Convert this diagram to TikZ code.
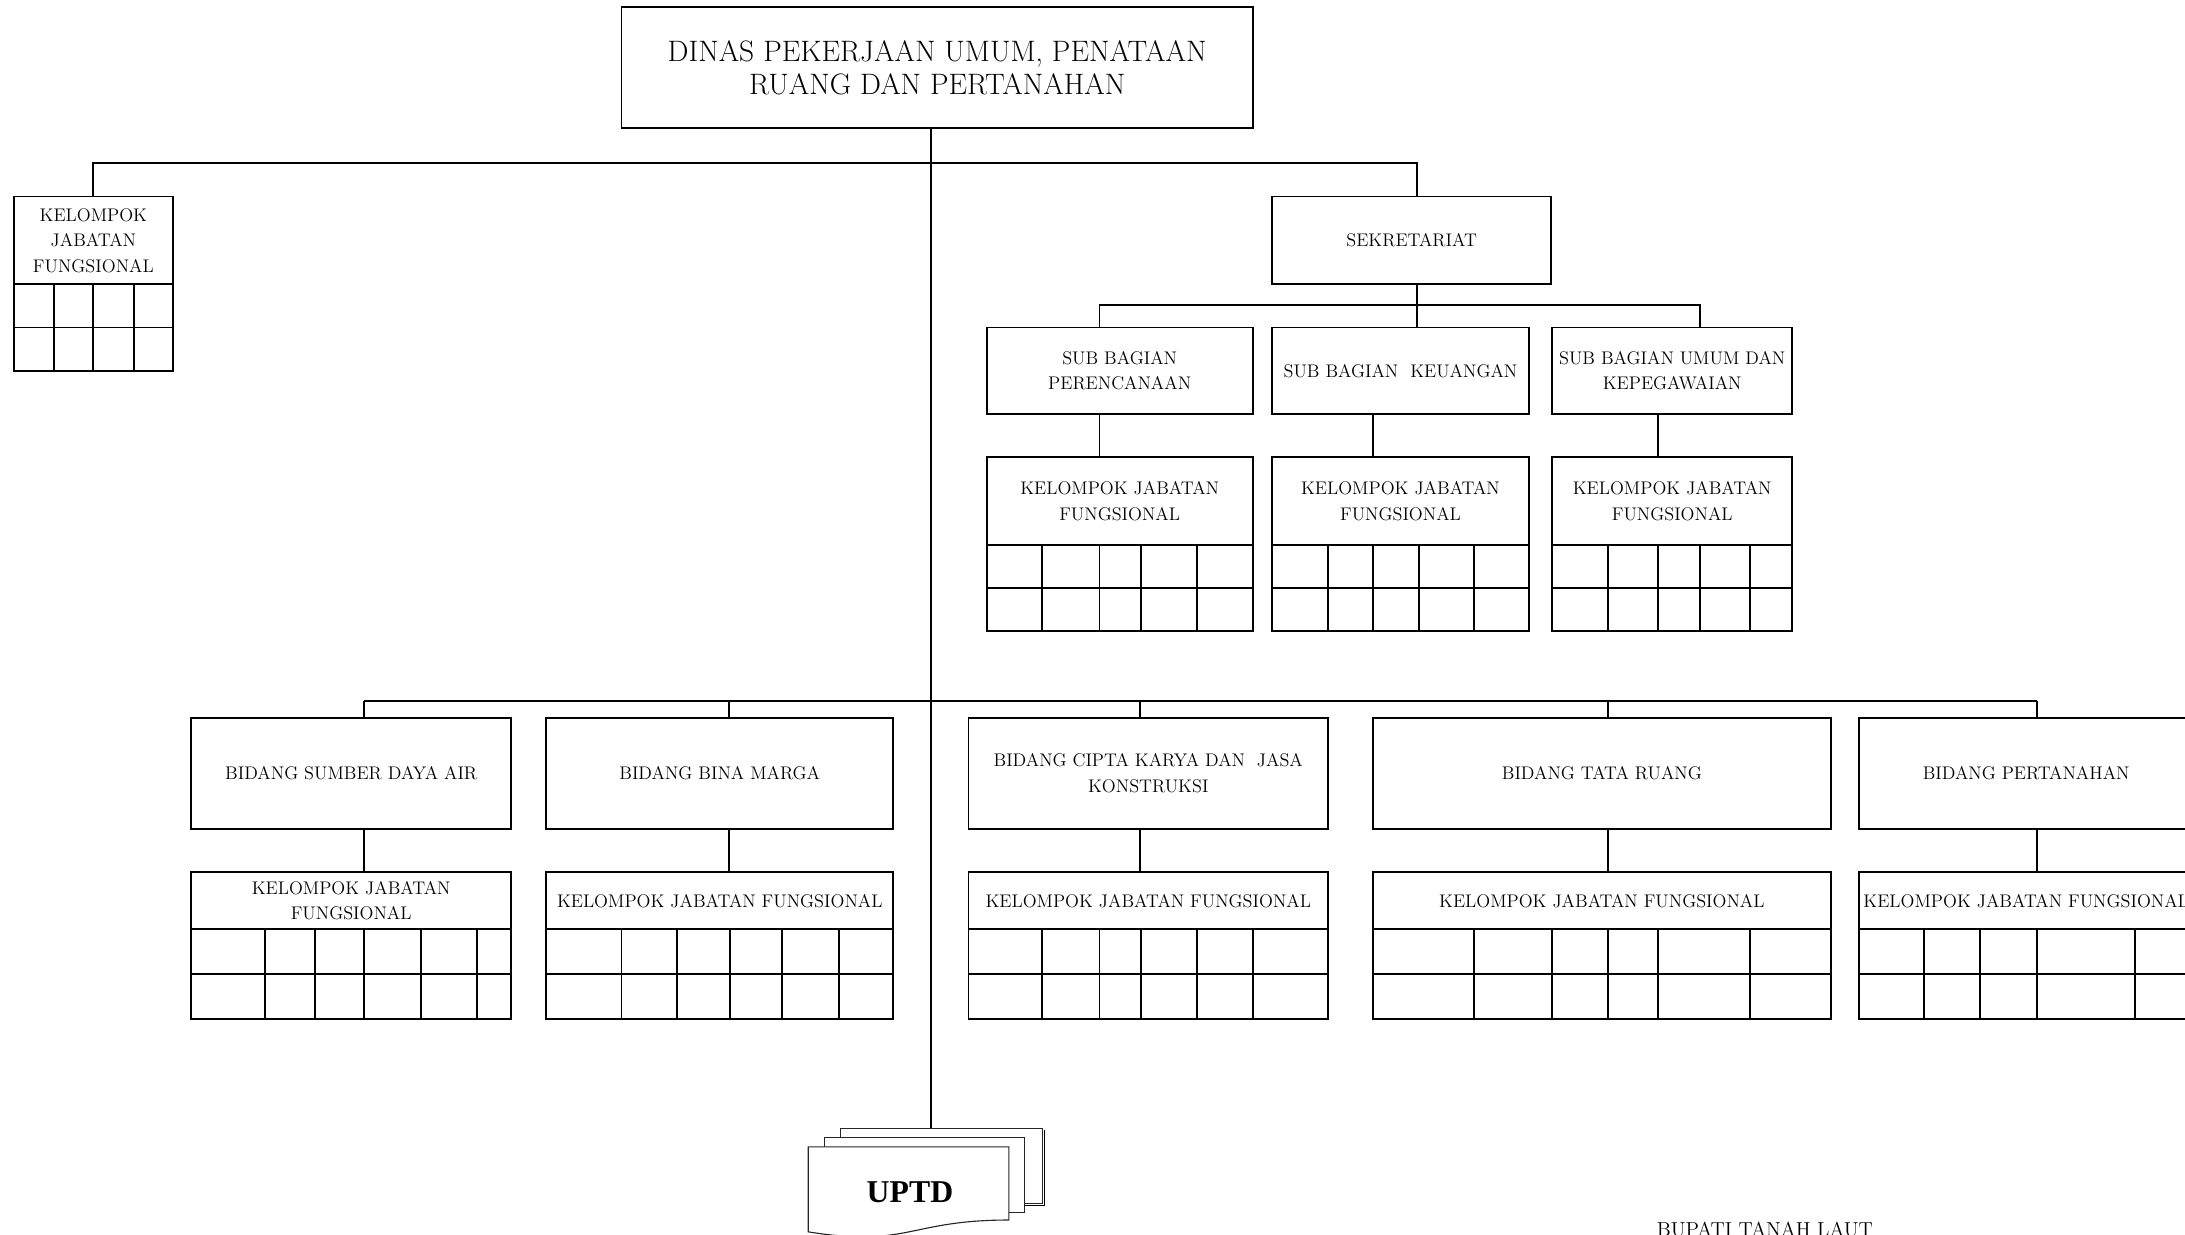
\documentclass[tikz,border=0pt]{standalone}
\usepackage{fontspec}
\newfontfamily\uptdfont{Liberation Serif}
\tikzset{
  bx/.style={draw, rectangle, line width=1.4pt, inner sep=0pt, align=center,
             font=\fontsize{13.1}{18.3}\selectfont},
  ln/.style={line width=1.4pt},
  sheet/.style={draw=black!85, line width=0.8pt, fill=white}
}
\newcommand{\cellgrid}[5]{%
  \draw[ln] (#1,#3) rectangle (#2,#4);
  \draw[ln] (#1,{(#3+#4)/2}) -- (#2,{(#3+#4)/2});
  \foreach \c in {#5} {\draw[ln] (\c,#3) -- (\c,#4);}
}
\begin{document}
\begin{tikzpicture}[x=1pt,y=-1pt]
\useasboundingbox (0,0) rectangle (1568,886);
\clip (0,0) rectangle (1568,886);

% x positions of connectors
\coordinate (spine) at (668,0);
\coordinate (xsek) at (1017,0);
\coordinate (xs1) at (789,0);
\coordinate (xs3) at (1220,0);
\coordinate (xk2) at (985,0);
\coordinate (xk3) at (1190,0);
\coordinate (xb1) at (261,0);
\coordinate (xb2) at (523,0);
\coordinate (xb3) at (818,0);
\coordinate (xb4) at (1154,0);
\coordinate (xb5) at (1462,0);
\coordinate (bus1) at (0,117);
\coordinate (bus2) at (0,219);
\coordinate (bus3) at (0,503);

% top
\node[bx, minimum width=453pt, minimum height=87pt, font=\fontsize{21.2}{24}\selectfont]
  (dinas) at (672.5,48.5) {DINAS PEKERJAAN UMUM, PENATAAN\\RUANG DAN PERTANAHAN};

% left functional group
\node[bx, minimum width=114pt, minimum height=63pt] (kjf0) at (67,172.5) {KELOMPOK\\JABATAN\\FUNGSIONAL};
\cellgrid{10}{124}{204}{266}{39,67,96}

% secretariat
\node[bx, minimum width=200pt, minimum height=63pt] (sek) at (1013,172.5) {SEKRETARIAT};
\node[bx, minimum width=191pt, minimum height=62pt] (sub1) at (803.5,266) {SUB BAGIAN\\PERENCANAAN};
\node[bx, minimum width=184pt, minimum height=62pt] (sub2) at (1005,266) {SUB BAGIAN\ \ KEUANGAN};
\node[bx, minimum width=172pt, minimum height=62pt] (sub3) at (1200,266) {SUB BAGIAN UMUM DAN\\KEPEGAWAIAN};

\node[bx, minimum width=191pt, minimum height=63pt] (sk1) at (803.5,359.5) {KELOMPOK JABATAN\\FUNGSIONAL};
\node[bx, minimum width=184pt, minimum height=63pt] (sk2) at (1005,359.5) {KELOMPOK JABATAN\\FUNGSIONAL};
\node[bx, minimum width=172pt, minimum height=63pt] (sk3) at (1200,359.5) {KELOMPOK JABATAN\\FUNGSIONAL};
\cellgrid{708}{899}{391}{453}{748,789,819,859}
\cellgrid{913}{1097}{391}{453}{953,985,1018,1058}
\cellgrid{1114}{1286}{391}{453}{1154,1190,1220,1256}

% bidang
\node[bx, minimum width=230pt, minimum height=80pt] (b1) at (252,555) {BIDANG SUMBER DAYA AIR};
\node[bx, minimum width=249pt, minimum height=80pt] (b2) at (516.5,555) {BIDANG BINA MARGA};
\node[bx, minimum width=258pt, minimum height=80pt] (b3) at (824,555) {BIDANG CIPTA KARYA DAN\ \ JASA\\KONSTRUKSI};
\node[bx, minimum width=329pt, minimum height=80pt] (b4) at (1149.5,555) {BIDANG TATA RUANG};
\node[bx, minimum width=240pt, minimum height=80pt] (b5) at (1454,555) {BIDANG PERTANAHAN};

\node[bx, minimum width=230pt, minimum height=41pt] (bk1) at (252,646.5) {KELOMPOK JABATAN\\FUNGSIONAL};
\node[bx, minimum width=249pt, minimum height=41pt] (bk2) at (516.5,646.5) {KELOMPOK JABATAN FUNGSIONAL};
\node[bx, minimum width=258pt, minimum height=41pt] (bk3) at (824,646.5) {KELOMPOK JABATAN FUNGSIONAL};
\node[bx, minimum width=329pt, minimum height=41pt] (bk4) at (1149.5,646.5) {KELOMPOK JABATAN FUNGSIONAL};
\node[bx, minimum width=240pt, minimum height=41pt] (bk5) at (1454,646.5) {KELOMPOK JABATAN FUNGSIONAL};
\cellgrid{137}{367}{667}{731}{190,226,261,302,342}
\cellgrid{392}{641}{667}{731}{446,486,524,561,602}
\cellgrid{695}{953}{667}{731}{748,789,819,859,899}
\cellgrid{985}{1314}{667}{731}{1058,1114,1154,1190,1256}
\cellgrid{1334}{1574}{667}{731}{1381,1421,1462,1532}

% UPTD
\node[sheet, minimum width=144.5pt, minimum height=53.5pt, anchor=north west, inner sep=0pt] (uback) at (603,809.5) {};
\draw[line width=1.3pt] ([xshift=1.3pt,yshift=-1.5pt]uback.north east) -- ([xshift=1.3pt,yshift=-1.3pt]uback.south east) -- ([xshift=-100pt,yshift=-1.3pt]uback.south east);
\node[sheet, minimum width=143.5pt, minimum height=53.5pt, anchor=north west, inner sep=0pt] (umid) at (591.5,816) {};
\draw[sheet] (580,823) -- (724,823) -- (724,875.5) .. controls (652,875.5) and (652,895.5) .. (580,884) -- cycle;
\node[font=\uptdfont\bfseries\fontsize{22.8}{26}\selectfont, inner sep=0pt] (uptd) at (653,855.5) {UPTD};

% connectors
\draw[ln] (dinas.south -| spine) -- (uback.north -| spine);
\draw[ln] (kjf0.north) -- (kjf0.north |- bus1) -- (bus1 -| xsek) -- (sek.north -| xsek);
\draw[ln] (sek.south -| xsek) -- (sub2.north -| xsek);
\draw[ln] (sub1.north -| xs1) -- (bus2 -| xs1) -- (bus2 -| xs3) -- (sub3.north -| xs3);
\draw[ln] (sub1.south -| xs1) -- (sk1.north -| xs1);
\draw[ln] (sub2.south -| xk2) -- (sk2.north -| xk2);
\draw[ln] (sub3.south -| xk3) -- (sk3.north -| xk3);
\draw[ln] (bus3 -| xb1) -- (bus3 -| xb5);
\foreach \i in {1,...,5} {
  \draw[ln] (bus3 -| xb\i) -- (b\i.north -| xb\i);
  \draw[ln] (b\i.south -| xb\i) -- (bk\i.north -| xb\i);
}

% signature
\node[font=\fontsize{14.5}{16}\selectfont, anchor=base, inner sep=0pt] (bupati) at (1266.5,887) {BUPATI TANAH LAUT};
\end{tikzpicture}
\end{document}
